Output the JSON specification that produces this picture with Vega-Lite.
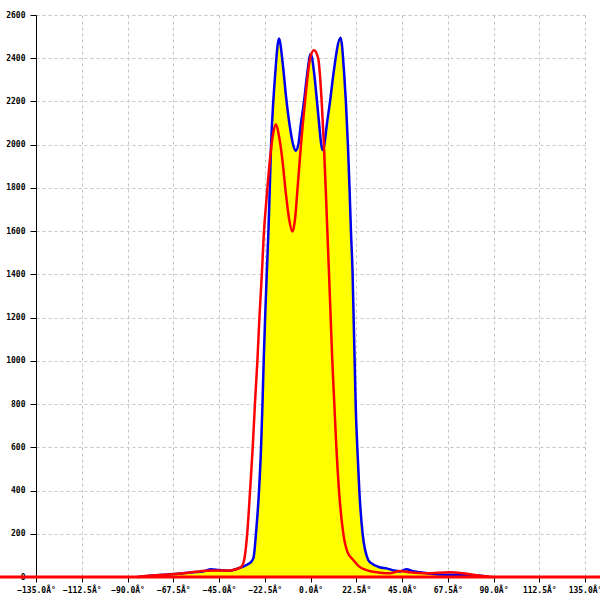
{
  "$schema": "https://vega.github.io/schema/vega-lite/v6.json",
  "width": 549,
  "height": 562,
  "autosize": {"type": "none"},
  "padding": {"left": 36, "top": 15, "right": 15, "bottom": 23},
  "background": "white",
  "config": {
    "view": {"stroke": null},
    "axis": {
      "labelFont": "DejaVu Sans Mono",
      "labelFontSize": 8,
      "labelFontWeight": "bold",
      "labelColor": "black",
      "domainColor": "black",
      "domainWidth": 1,
      "tickColor": "black",
      "tickWidth": 1,
      "gridColor": "#c4c4c4",
      "gridDash": [3, 3],
      "gridWidth": 1,
      "title": null
    }
  },
  "datasets": {
    "blue": [
      {"angle": -85, "count": 0},
      {"angle": -80, "count": 5},
      {"angle": -70, "count": 12},
      {"angle": -60, "count": 20},
      {"angle": -52, "count": 28},
      {"angle": -49, "count": 36},
      {"angle": -45, "count": 32},
      {"angle": -41, "count": 29},
      {"angle": -37, "count": 35},
      {"angle": -34, "count": 45},
      {"angle": -31, "count": 58},
      {"angle": -29, "count": 72},
      {"angle": -28, "count": 90},
      {"angle": -26.8, "count": 203},
      {"angle": -25.3, "count": 402},
      {"angle": -24.3, "count": 603},
      {"angle": -23.6, "count": 805},
      {"angle": -23.0, "count": 1004},
      {"angle": -22.3, "count": 1204},
      {"angle": -21.5, "count": 1405},
      {"angle": -20.7, "count": 1597},
      {"angle": -20.2, "count": 1744},
      {"angle": -19.4, "count": 1998},
      {"angle": -18.3, "count": 2199},
      {"angle": -17.4, "count": 2322},
      {"angle": -15.5, "count": 2491},
      {"angle": -13.6, "count": 2370},
      {"angle": -12.0, "count": 2220},
      {"angle": -10.1, "count": 2080},
      {"angle": -8.4, "count": 1995},
      {"angle": -7.3, "count": 1972},
      {"angle": -6.0, "count": 2000},
      {"angle": -4.8, "count": 2091},
      {"angle": -3.2, "count": 2199},
      {"angle": -1.7, "count": 2322},
      {"angle": 0.1, "count": 2420},
      {"angle": 1.9, "count": 2322},
      {"angle": 3.2, "count": 2199},
      {"angle": 4.3, "count": 2091},
      {"angle": 5.3, "count": 2000},
      {"angle": 6.0, "count": 1975},
      {"angle": 6.8, "count": 2000},
      {"angle": 8.0, "count": 2091},
      {"angle": 9.6, "count": 2199},
      {"angle": 11.2, "count": 2322},
      {"angle": 14.8, "count": 2495},
      {"angle": 16.6, "count": 2322},
      {"angle": 17.4, "count": 2199},
      {"angle": 18.4, "count": 1998},
      {"angle": 19.2, "count": 1798},
      {"angle": 19.9, "count": 1597},
      {"angle": 20.7, "count": 1405},
      {"angle": 21.2, "count": 1204},
      {"angle": 21.7, "count": 1004},
      {"angle": 22.2, "count": 805},
      {"angle": 23.0, "count": 603},
      {"angle": 24.0, "count": 402},
      {"angle": 25.6, "count": 203},
      {"angle": 28.4, "count": 79},
      {"angle": 30, "count": 63},
      {"angle": 34, "count": 45},
      {"angle": 37.4, "count": 40},
      {"angle": 41, "count": 30},
      {"angle": 44, "count": 26},
      {"angle": 47.3, "count": 36},
      {"angle": 50, "count": 28},
      {"angle": 53.8, "count": 22},
      {"angle": 63.6, "count": 12},
      {"angle": 76.8, "count": 9},
      {"angle": 84.8, "count": 5},
      {"angle": 88, "count": 0}
    ],
    "red": [
      {"angle": -85, "count": 0},
      {"angle": -80, "count": 6},
      {"angle": -70, "count": 12},
      {"angle": -60, "count": 20},
      {"angle": -51, "count": 29},
      {"angle": -45, "count": 30},
      {"angle": -41, "count": 29},
      {"angle": -36, "count": 38},
      {"angle": -33.8, "count": 50},
      {"angle": -32.5, "count": 85},
      {"angle": -31.1, "count": 203},
      {"angle": -29.7, "count": 402},
      {"angle": -28.4, "count": 603},
      {"angle": -27.3, "count": 805},
      {"angle": -26.1, "count": 1004},
      {"angle": -25.1, "count": 1204},
      {"angle": -23.9, "count": 1405},
      {"angle": -22.9, "count": 1597},
      {"angle": -21.8, "count": 1730},
      {"angle": -19.9, "count": 1936},
      {"angle": -18.4, "count": 2050},
      {"angle": -17.0, "count": 2095},
      {"angle": -15.5, "count": 2040},
      {"angle": -13.9, "count": 1936},
      {"angle": -12.2, "count": 1782},
      {"angle": -10.5, "count": 1655},
      {"angle": -8.9, "count": 1598},
      {"angle": -7.5, "count": 1665},
      {"angle": -6.5, "count": 1782},
      {"angle": -4.7, "count": 1998},
      {"angle": -2.7, "count": 2199},
      {"angle": -0.2, "count": 2399},
      {"angle": 1.7, "count": 2437},
      {"angle": 3.8, "count": 2399},
      {"angle": 5.5, "count": 2199},
      {"angle": 6.6, "count": 1998},
      {"angle": 7.6, "count": 1770},
      {"angle": 8.3, "count": 1597},
      {"angle": 9.1, "count": 1405},
      {"angle": 9.9, "count": 1204},
      {"angle": 10.7, "count": 1004},
      {"angle": 11.7, "count": 805},
      {"angle": 12.7, "count": 603},
      {"angle": 14.0, "count": 402},
      {"angle": 16.1, "count": 203},
      {"angle": 18.2, "count": 115},
      {"angle": 21.0, "count": 79},
      {"angle": 24, "count": 48},
      {"angle": 27.6, "count": 32},
      {"angle": 34.2, "count": 20},
      {"angle": 39, "count": 17},
      {"angle": 44, "count": 28},
      {"angle": 48.9, "count": 22},
      {"angle": 57.1, "count": 17},
      {"angle": 68.5, "count": 22},
      {"angle": 75, "count": 17},
      {"angle": 83.3, "count": 6},
      {"angle": 89.7, "count": 0}
    ],
    "baseline": [
      {"x1": -153, "x2": 143, "y": 0}
    ]
  },
  "encoding": {
    "x": {
      "field": "angle",
      "type": "quantitative",
      "scale": {"domain": [-135, 135], "nice": false, "zero": false},
      "axis": {
        "values": [-135, -112.5, -90, -67.5, -45, -22.5, 0, 22.5, 45, 67.5, 90, 112.5, 135],
        "labelExpr": "format(datum.value, '.1f') + 'Â°'",
        "tickSize": 5,
        "labelPadding": 4,
        "labelFlush": false,
        "labelOverlap": false,
        "grid": true
      }
    },
    "y": {
      "field": "count",
      "type": "quantitative",
      "scale": {"domain": [0, 2600], "nice": false},
      "axis": {
        "values": [0, 200, 400, 600, 800, 1000, 1200, 1400, 1600, 1800, 2000, 2200, 2400, 2600],
        "format": "d",
        "tickSize": 6,
        "labelPadding": 5,
        "labelFlush": false,
        "labelOverlap": false,
        "grid": true
      }
    }
  },
  "layer": [
    {
      "data": {"name": "blue"},
      "mark": {"type": "area", "color": "#ffff00", "interpolate": "monotone", "opacity": 1}
    },
    {
      "data": {"name": "blue"},
      "mark": {"type": "line", "color": "#0000ee", "strokeWidth": 2.5, "interpolate": "monotone"}
    },
    {
      "data": {"name": "red"},
      "mark": {"type": "line", "color": "#ff0000", "strokeWidth": 2.5, "interpolate": "monotone"}
    },
    {
      "data": {"name": "baseline"},
      "mark": {"type": "rule", "color": "#ff0000", "strokeWidth": 3, "clip": false},
      "encoding": {
        "x": {"field": "x1", "type": "quantitative"},
        "x2": {"field": "x2"},
        "y": {"field": "y", "type": "quantitative"}
      }
    }
  ]
}
